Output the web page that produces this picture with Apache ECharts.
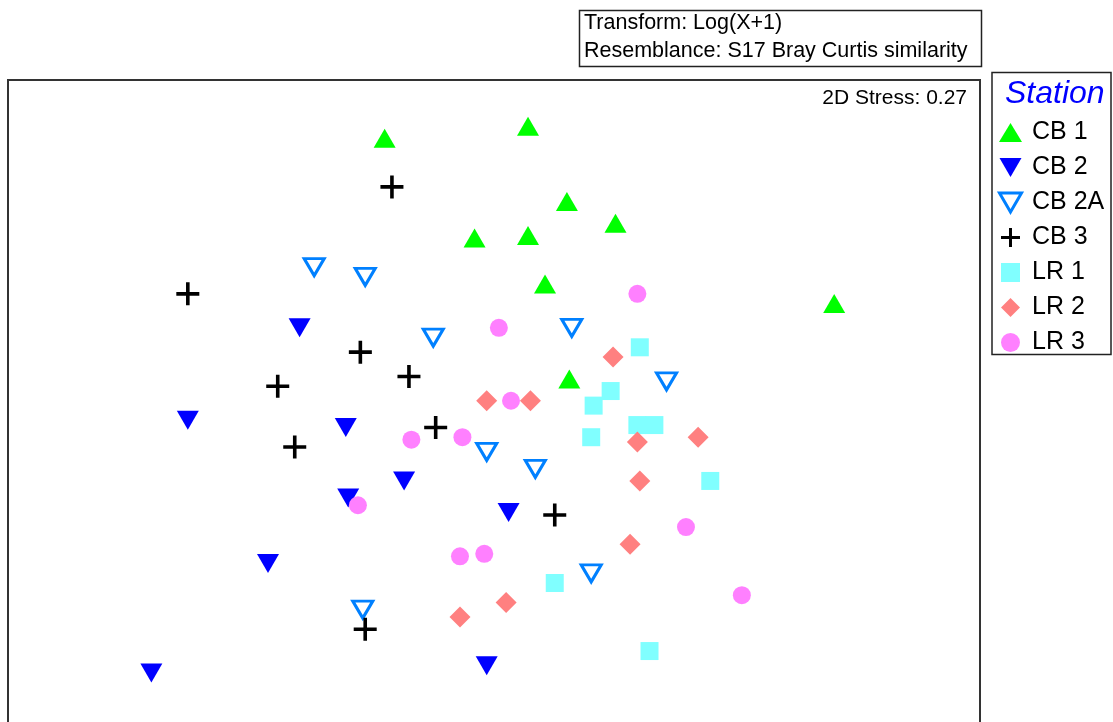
<!DOCTYPE html>
<html>
<head>
<meta charset="utf-8">
<title>nMDS – Station</title>
<script src="https://cdn.jsdelivr.net/npm/echarts@6/dist/echarts.min.js"></script>
<style>
  html, body { margin: 0; padding: 0; background: #fff; overflow: hidden; height: 722px; }
  /* the ordination frame runs past the bottom of the window, so the canvas is taller */
  #chart { width: 1113px; height: 830px; }
</style>
</head>
<body>
<div id="chart"></div>
<script>
// nMDS ordination coordinates per station, [MDS1, MDS2]
const stations = ['CB 1', 'CB 2', 'CB 2A', 'CB 3', 'LR 1', 'LR 2', 'LR 3'];

const cb1 = [[-0.45, 0.96], [0.14, 1.01], [0.30, 0.70], [-0.08, 0.55], [0.14, 0.56],
             [0.50, 0.61], [0.21, 0.36], [0.31, -0.03], [1.40, 0.28]];
const cb2 = [[-0.80, 0.18], [-1.26, -0.20], [-0.61, -0.23], [-0.37, -0.45], [-0.60, -0.52],
             [-0.93, -0.79], [-1.41, -1.24], [0.06, -0.58], [-0.03, -1.21]];
const cb2a = [[-0.74, 0.43], [-0.53, 0.39], [-0.25, 0.14], [0.32, 0.18], [0.71, -0.04],
              [-0.03, -0.33], [0.17, -0.40], [0.40, -0.83], [-0.54, -0.98]];
const cb3 = [[-0.42, 0.76], [-1.26, 0.32], [-0.55, 0.08], [-0.35, -0.02], [-0.89, -0.06],
             [-0.82, -0.31], [-0.24, -0.23], [0.25, -0.59], [-0.53, -1.06]];
const lr1 = [[0.60, 0.10], [0.48, -0.08], [0.41, -0.14], [0.40, -0.27], [0.59, -0.22],
             [0.66, -0.22], [0.89, -0.45], [0.25, -0.87], [0.64, -1.15]];
const lr2 = [[0.49, 0.06], [-0.03, -0.12], [0.15, -0.12], [0.84, -0.27], [0.59, -0.29],
             [0.60, -0.45], [0.56, -0.71], [0.05, -0.95], [-0.14, -1.01]];
const lr3 = [[0.59, 0.32], [0.02, 0.18], [0.07, -0.12], [-0.34, -0.28], [-0.13, -0.27],
             [-0.56, -0.55], [0.79, -0.64], [-0.14, -0.76], [-0.04, -0.75], [1.02, -0.92]];

const stationData = [cb1, cb2, cb2a, cb3, lr1, lr2, lr3];

const transformText = 'Transform: Log(X+1)';
const resemblanceText = 'Resemblance: S17 Bray Curtis similarity';
const stressText = '2D Stress: 0.27';
const legendTitle = 'Station';

// Marker shapes
const FONT = '"Liberation Sans", Arial, Helvetica, sans-serif';
const downTri = 'path://M0,0H22L11,19Z';
const plus = 'path://M9.7,0H13.3V9.7H23V13.3H13.3V23H9.7V13.3H0V9.7H9.7Z';
const square = 'path://M0,0H10V10H0Z';
const diamond = 'path://M10,0L20,10L10,20L0,10Z';

const markerStyles = [
  { symbol: 'triangle', symbolSize: [22, 19], itemStyle: { color: '#00ff00', opacity: 1 } },
  { symbol: downTri, symbolSize: [22, 19], itemStyle: { color: '#0000ff', opacity: 1 } },
  { symbol: downTri, symbolSize: [20, 17],
    itemStyle: { color: 'rgba(255,255,255,0)', borderColor: '#0080ff', borderWidth: 3,
                 borderJoin: 'miter', opacity: 1 } },
  { symbol: plus, symbolSize: [23, 23], itemStyle: { color: '#000000', opacity: 1 } },
  { symbol: square, symbolSize: [18, 18], itemStyle: { color: '#80ffff', opacity: 1 } },
  { symbol: diamond, symbolSize: [21, 21], itemStyle: { color: '#ff8080', opacity: 1 } },
  { symbol: 'circle', symbolSize: 18, itemStyle: { color: '#ff80ff', opacity: 1 } }
];

const series = stations.map((name, i) => Object.assign({
  name: name,
  type: 'scatter',
  data: stationData[i],
  symbolKeepAspect: false,
  emphasis: { disabled: true },
  animation: false
}, markerStyles[i]));

const chart = echarts.init(document.getElementById('chart'), null, { renderer: 'canvas' });

chart.setOption({
  backgroundColor: '#ffffff',
  animation: false,
  grid: {
    left: 8, top: 80, width: 972, height: 729,
    show: true, borderColor: '#333333', borderWidth: 2, backgroundColor: 'transparent'
  },
  xAxis: { type: 'value', min: -2, max: 2, show: false, splitLine: { show: false } },
  yAxis: { type: 'value', min: -1.8, max: 1.2, show: false, splitLine: { show: false } },
  legend: {
    orient: 'vertical',
    left: 998,
    top: 120,
    padding: 0,
    itemWidth: 23,
    itemHeight: 19,
    itemGap: 10,
    selectedMode: false,
    data: stations.map(n => n === 'CB 2A'
      ? { name: n, itemStyle: { borderWidth: 3, borderColor: '#0080ff', color: 'rgba(255,255,255,0)' } }
      : n),
    textStyle: { fontFamily: FONT, fontSize: 25, color: '#000', padding: [0, 0, 0, 5] }
  },
  graphic: [
    { type: 'rect', silent: true,
      shape: { x: 579.5, y: 10.5, width: 402, height: 56 },
      style: { fill: 'none', stroke: '#222', lineWidth: 1.5 } },
    { type: 'text', silent: true, x: 584, y: 23,
      style: { text: transformText, font: '21.5px ' + FONT, fill: '#000', verticalAlign: 'middle' } },
    { type: 'text', silent: true, x: 584, y: 51,
      style: { text: resemblanceText, font: '21.5px ' + FONT, fill: '#000', verticalAlign: 'middle' } },
    { type: 'text', silent: true, x: 967, y: 98,
      style: { text: stressText, font: '21px ' + FONT, fill: '#000', align: 'right', verticalAlign: 'middle' } },
    { type: 'rect', silent: true,
      shape: { x: 992, y: 72.5, width: 119, height: 282 },
      style: { fill: 'none', stroke: '#222', lineWidth: 1.5 } },
    { type: 'text', silent: true, x: 1005, y: 94,
      style: { text: legendTitle, font: 'italic 32px ' + FONT, fill: '#0000ff', verticalAlign: 'middle' } }
  ],
  series: series
});
</script>
</body>
</html>
